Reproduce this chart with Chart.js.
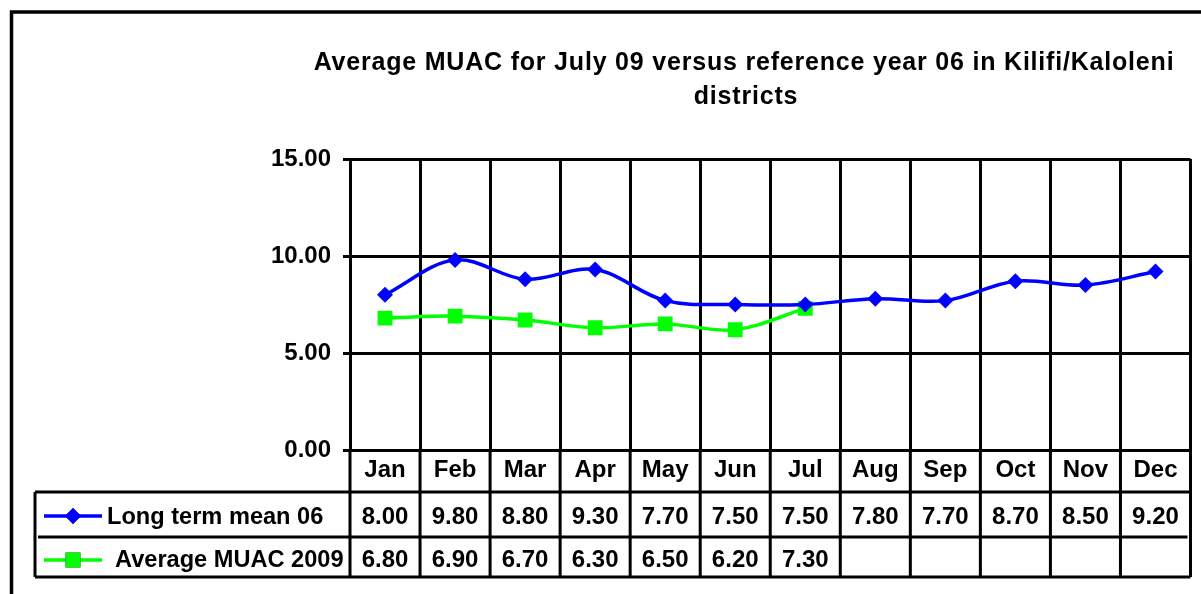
<!DOCTYPE html>
<html>
<head>
<meta charset="utf-8">
<script src="https://cdn.jsdelivr.net/npm/chart.js@4.4.1/dist/chart.umd.min.js"></script>
<style>
  html, body { margin: 0; padding: 0; background: #fff; }
  #wrap { width: 1201px; height: 594px; position: relative; }
</style>
</head>
<body>
<div id="wrap"><canvas id="c" width="1201" height="594"></canvas></div>
<script>
const titleLines = ['Average MUAC for July 09 versus reference year 06 in Kilifi/Kaloleni', 'districts'];
const months = ['Jan','Feb','Mar','Apr','May','Jun','Jul','Aug','Sep','Oct','Nov','Dec'];
const longTermMean06 = [8.00, 9.80, 8.80, 9.30, 7.70, 7.50, 7.50, 7.80, 7.70, 8.70, 8.50, 9.20];
const averageMuac2009 = [6.80, 6.90, 6.70, 6.30, 6.50, 6.20, 7.30, null, null, null, null, null];
const seriesNames = ['Long term mean 06', 'Average MUAC 2009'];
const yTicks = [0, 5, 10, 15];

const FONT = '"Liberation Sans", Arial, sans-serif';

const tablePlugin = {
  id: 'tablePlugin',
  afterDraw(chart) {
    const ctx = chart.ctx;
    const x = chart.scales.x;
    const area = chart.chartArea;
    const n = months.length;
    const half = (x.getPixelForValue(1) - x.getPixelForValue(0)) / 2;
    const left = x.getPixelForValue(0) - half;
    const right = x.getPixelForValue(n - 1) + half;
    const headTop = area.bottom;
    const r1Top = 492, r2Top = 537, tblBottom = 577;
    const legLeft = 35;
    ctx.save();
    // outer chart border
    ctx.strokeStyle = '#000';
    ctx.lineWidth = 3.5;
    ctx.beginPath();
    ctx.moveTo(11.5, 600);
    ctx.lineTo(11.5, 12);
    ctx.lineTo(1210, 12);
    ctx.stroke();
    // title
    ctx.fillStyle = '#000';
    ctx.font = 'bold 25px ' + FONT;
    ctx.textAlign = 'center';
    ctx.textBaseline = 'alphabetic';
    if ('letterSpacing' in ctx) ctx.letterSpacing = '0.8px';
    ctx.fillText(titleLines[0], 744, 70);
    ctx.fillText(titleLines[1], 746, 104);
    if ('letterSpacing' in ctx) ctx.letterSpacing = '0px';
    // table lines
    ctx.lineWidth = 3;
    ctx.beginPath();
    for (let i = 0; i <= n; i++) {
      const px = left + i * 2 * half;
      ctx.moveTo(px, headTop);
      ctx.lineTo(px, tblBottom);
    }
    ctx.moveTo(legLeft, r1Top); ctx.lineTo(right, r1Top);
    ctx.moveTo(legLeft + 3, r2Top); ctx.lineTo(right - 3, r2Top);
    ctx.moveTo(legLeft, tblBottom); ctx.lineTo(right, tblBottom);
    ctx.moveTo(legLeft, r1Top); ctx.lineTo(legLeft, tblBottom);
    ctx.stroke();
    // header labels
    ctx.font = 'bold 24px ' + FONT;
    ctx.textAlign = 'center';
    ctx.textBaseline = 'alphabetic';
    months.forEach((m, i) => ctx.fillText(m, x.getPixelForValue(i), 477));
    const rows = [longTermMean06, averageMuac2009];
    const rowBase = [524, 567];
    rows.forEach((vals, r) => {
      vals.forEach((v, i) => {
        if (v !== null) ctx.fillText(v.toFixed(2), x.getPixelForValue(i), rowBase[r]);
      });
    });
    // legend keys
    const ds = chart.data.datasets;
    const textX = [107, 115];
    const keyY = [516, 560];
    ds.forEach((d, r) => {
      const y = keyY[r];
      ctx.strokeStyle = d.borderColor;
      ctx.lineWidth = 3.5;
      ctx.beginPath();
      ctx.moveTo(44, y); ctx.lineTo(102, y);
      ctx.stroke();
      Chart.helpers.drawPoint(ctx, { pointStyle: d.pointStyle, radius: d.pointRadius, borderWidth: 0, rotation: 0 }, 73, y);
      ctx.fillStyle = d.pointBackgroundColor;
      ctx.fill();
      ctx.fillStyle = '#000';
      ctx.textAlign = 'left';
      ctx.font = 'bold 23.6px ' + FONT;
      ctx.fillText(seriesNames[r], textX[r], rowBase[r]);
    });
    ctx.restore();
  }
};

new Chart(document.getElementById('c'), {
  type: 'line',
  data: {
    labels: months,
    datasets: [
      {
        label: seriesNames[0],
        data: longTermMean06,
        borderColor: '#0000FF',
        backgroundColor: '#0000FF',
        pointBackgroundColor: '#0000FF',
        pointBorderColor: '#0000FF',
        pointStyle: 'rectRot',
        pointRadius: 8,
        pointBorderWidth: 0,
        borderWidth: 3.5,
        tension: 0.35,
        fill: false
      },
      {
        label: seriesNames[1],
        data: averageMuac2009,
        borderColor: '#00FF00',
        backgroundColor: '#00FF00',
        pointBackgroundColor: '#00FF00',
        pointBorderColor: '#00FF00',
        pointStyle: 'rect',
        pointRadius: 10.5,
        pointBorderWidth: 0,
        borderWidth: 3.5,
        tension: 0.35,
        fill: false,
        spanGaps: false
      }
    ]
  },
  options: {
    responsive: false,
    animation: false,
    events: [],
    layout: { padding: { top: 159, right: 6, bottom: 144, left: 0 } },
    plugins: {
      legend: { display: false },
      title: { display: false },
      tooltip: { enabled: false }
    },
    scales: {
      x: {
        offset: true,
        grid: { offset: true, color: '#000', lineWidth: 3, drawTicks: false },
        border: { color: '#000', width: 3 },
        ticks: { display: false }
      },
      y: {
        min: 0, max: 15,
        afterFit(scale) { scale.width = 350; },
        afterBuildTicks(scale) { scale.ticks = yTicks.map(v => ({ value: v })); },
        grid: { color: '#000', lineWidth: 3, tickLength: 7 },
        border: { color: '#000', width: 3 },
        ticks: {
          padding: 12,
          color: '#000',
          font: { family: FONT, size: 24, weight: 'bold' },
          callback: v => Number(v).toFixed(2)
        }
      }
    }
  },
  plugins: [tablePlugin]
});
</script>
</body>
</html>
